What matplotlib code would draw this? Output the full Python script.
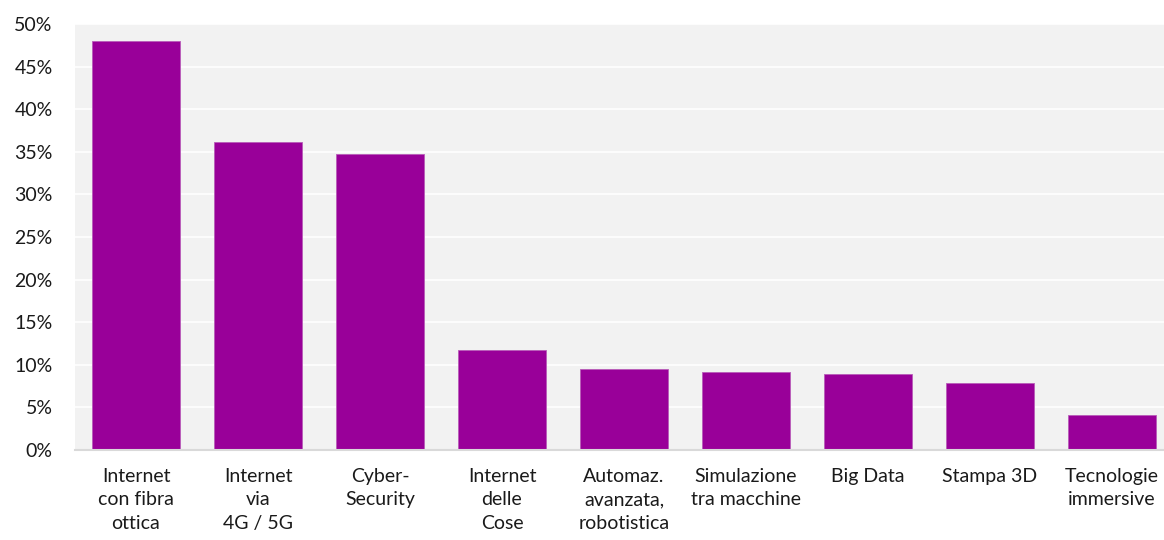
import matplotlib.pyplot as plt
from matplotlib.ticker import FuncFormatter

# categories and shares (%)
categories = [
    "Internet\ncon fibra\nottica",
    "Internet\nvia\n4G / 5G",
    "Cyber-\nSecurity",
    "Internet\ndelle\nCose",
    "Automaz.\navanzata,\nrobotistica",
    "Simulazione\ntra macchine",
    "Big Data",
    "Stampa 3D",
    "Tecnologie\nimmersive",
]
values = [48.0, 36.1, 34.8, 11.7, 9.5, 9.2, 8.9, 7.9, 4.1]
yticks = [0, 5, 10, 15, 20, 25, 30, 35, 40, 45, 50]

plt.rcParams['font.family'] = ['Lato', 'DejaVu Sans']

fig = plt.figure(figsize=(11.64, 5.4), dpi=100)
W, H = 1164, 540
left, right, top, bottom = 75, 1173, 24, 450
ax = fig.add_axes([left / W, 1 - bottom / H, (right - left) / W, (bottom - top) / H])

ax.set_facecolor('#F2F2F2')
ax.bar(range(len(categories)), values, width=0.72, color='#990099',
       edgecolor='#B85CB8', linewidth=0.6, zorder=3)

ax.set_xlim(-0.5, len(categories) - 0.5)
ax.set_ylim(0, 50)
ax.set_yticks(yticks)
ax.yaxis.set_major_formatter(FuncFormatter(lambda v, p: f"{v:.0f}%"))
ax.grid(axis='y', color='white', linewidth=1.2, zorder=0)
ax.set_xticks(range(len(categories)))
ax.set_xticklabels(categories, linespacing=1.45, va='top')

for s in ['top', 'right', 'left']:
    ax.spines[s].set_visible(False)
ax.spines['bottom'].set_color('#D9D9D9')
ax.spines['bottom'].set_linewidth(1.5)
ax.spines['bottom'].set_zorder(4)

ax.tick_params(axis='both', length=0, labelsize=14, colors='#1a1a1a')
ax.tick_params(axis='y', pad=16)
ax.tick_params(axis='x', pad=13)

fig.savefig('out.png', dpi=100)
